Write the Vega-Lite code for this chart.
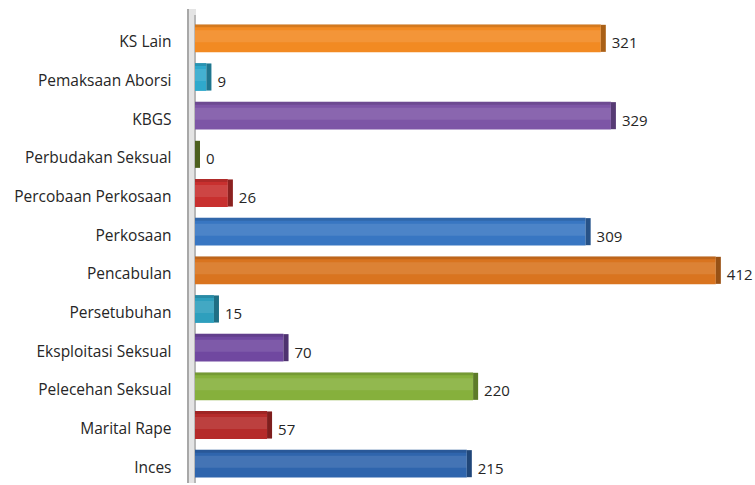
{
  "$schema": "https://vega.github.io/schema/vega-lite/v6.json",
  "autosize": "none",
  "width": 560,
  "height": 464,
  "padding": {"left": 195, "top": 19, "right": 0, "bottom": 0},
  "background": "white",
  "config": {"view": {"stroke": null}, "font": "Open Sans"},
  "data": {"values": [
    {"cat": "KS Lain", "value": 321},
    {"cat": "Pemaksaan Aborsi", "value": 9},
    {"cat": "KBGS", "value": 329},
    {"cat": "Perbudakan Seksual", "value": 0},
    {"cat": "Percobaan Perkosaan", "value": 26},
    {"cat": "Perkosaan", "value": 309},
    {"cat": "Pencabulan", "value": 412},
    {"cat": "Persetubuhan", "value": 15},
    {"cat": "Eksploitasi Seksual", "value": 70},
    {"cat": "Pelecehan Seksual", "value": 220},
    {"cat": "Marital Rape", "value": 57},
    {"cat": "Inces", "value": 215}
  ]},
  "encoding": {
    "y": {"field": "cat", "type": "nominal", "sort": null,
      "scale": {"paddingInner": 0.28, "paddingOuter": 0.14},
      "axis": {"title": null, "ticks": false, "domain": false, "labelPadding": 24, "labelOffset": 4, "labelFontSize": 15.5, "labelColor": "#262626", "labelFont": "Open Sans"}},
    "x": {"field": "value", "type": "quantitative", "scale": {"domain": [0, 443], "nice": false}, "axis": null}
  },
  "layer": [
    {"mark": {"type": "rule", "strokeWidth": 8, "color": "#e4e4e4", "xOffset": -3, "y": -10, "y2": 485},
     "encoding": {"x": {"datum": 0}, "y": null}},
    {"mark": {"type": "rule", "strokeWidth": 1.2, "color": "#a8a8a8", "xOffset": -7, "y": -10, "y2": 485},
     "encoding": {"x": {"datum": 0}, "y": null}},
    {"mark": {"type": "rule", "strokeWidth": 1.2, "color": "#b8b8b8", "xOffset": 0, "y": -4, "y2": 485},
     "encoding": {"x": {"datum": 0}, "y": null}},
    {"mark": {"type": "bar", "cornerRadius": 0},
     "encoding": {"color": {"field": "cat", "type": "nominal", "legend": null,
        "scale": {"domain": ["KS Lain","Pemaksaan Aborsi","KBGS","Perbudakan Seksual","Percobaan Perkosaan","Perkosaan","Pencabulan","Persetubuhan","Eksploitasi Seksual","Pelecehan Seksual","Marital Rape","Inces"],
          "range": ["#f28a22","#2fa9cc","#7d55a6","#6f8a2c","#c8302f","#3876c2","#d9741f","#2e9fbd","#7048a0","#86b03c","#b52b2a","#2f65ad"]}}}},
    {"mark": {"type": "bar", "color": "white", "opacity": 0.1, "height": 12, "yOffset": -2},
     "encoding": {}},
    {"mark": {"type": "bar", "color": "black", "opacity": 0.12, "height": 3, "yOffset": -12.5},
     "encoding": {}},
    {"mark": {"type": "tick", "thickness": 5, "xOffset": 2.5, "opacity": 1},
     "encoding": {"color": {"field": "cat", "type": "nominal", "legend": null}, "size": {"value": 27}}},
    {"mark": {"type": "tick", "thickness": 5, "xOffset": 2.5, "color": "black", "opacity": 0.3},
     "encoding": {"size": {"value": 27}}},
    {"mark": {"type": "text", "align": "left", "baseline": "middle", "dx": 11, "dy": 5, "fontSize": 15, "color": "#262626", "font": "Open Sans"},
     "encoding": {"text": {"field": "value", "type": "quantitative"}}}
  ]
}
